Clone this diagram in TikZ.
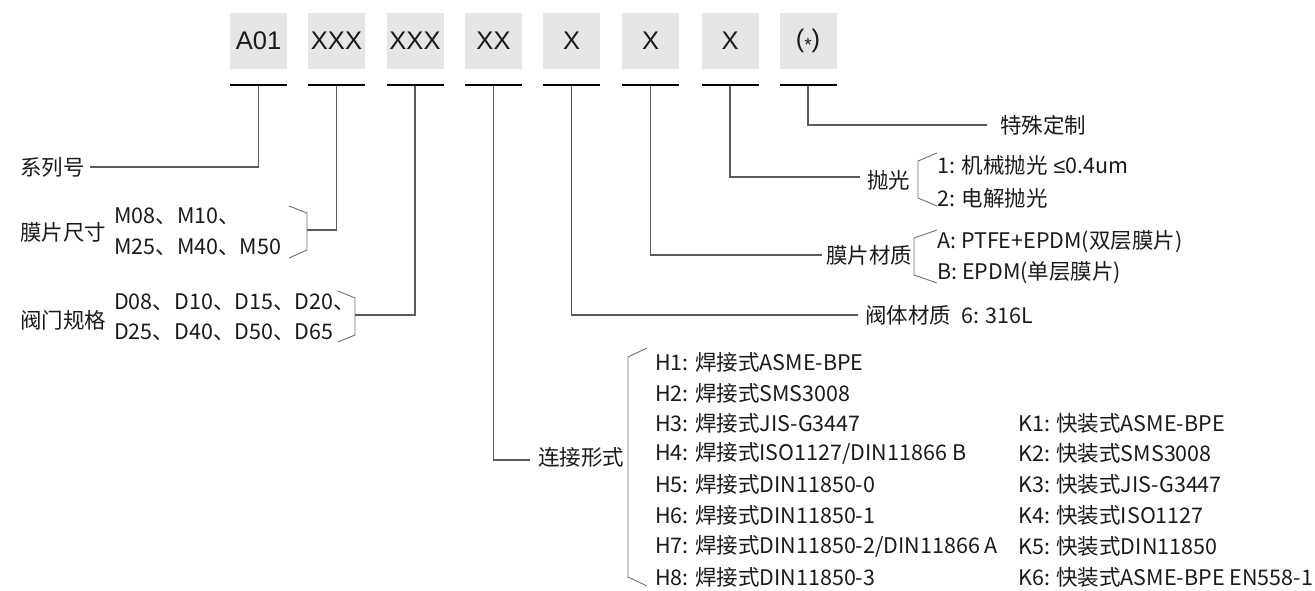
\documentclass[tikz,border=0pt]{standalone}
\usepackage{fontspec}
\setmainfont{Noto Sans CJK SC}
\newfontfamily\boxfont{Liberation Sans}
\definecolor{boxgray}{HTML}{E4E5E6}
\definecolor{linegray}{HTML}{5A5A5A}
\definecolor{brgray}{HTML}{6E6E6E}
\definecolor{txt}{HTML}{1A1A1A}
\newcommand{\myle}{{\boxfont ≤}}
\begin{document}
\begin{tikzpicture}[x=1pt,y=-1pt,
  codebox/.style={fill=boxgray, minimum width=57pt, minimum height=56pt, inner sep=0pt, text=txt, font=\boxfont\fontsize{25.5}{26}\selectfont},
  uline/.style={fill=black, minimum width=57pt, minimum height=2.4pt, inner sep=0pt},
  lbl/.style={font=\fontsize{21.5}{24}\selectfont, inner sep=0pt, anchor=west, text=txt},
  conn/.style={draw=linegray, line width=1.1pt},
  brk/.style={draw=brgray, line width=0.9pt}]
\useasboundingbox (0,0) rectangle (1315,590);
% code boxes
\foreach \i/\x/\t in {1/258.5/A01, 2/336.5/XXX, 3/415/XXX, 4/493.5/XX, 5/571.5/X, 6/650.5/X, 7/730/X, 8/808/{(\raisebox{-3.5pt}{\fontsize{19}{19}\selectfont *})}} {
  \node[codebox] (b\i) at (\x,41) {\t};
  \node[uline] (u\i) at (\x,85) {};
}
% left labels
\node[lbl] (s1) at (20,167) {系列号};
\node[lbl] (s2) at (20,232) {膜片尺寸};
\node[lbl] (m1) at (114,216) {M08、M10、};
\node[lbl] (m2) at (114,247) {M25、M40、M50};
\node[lbl] (s3) at (20,320) {阀门规格};
\node[lbl] (d1) at (114,302) {D08、D10、D15、D20、};
\node[lbl] (d2) at (114,332) {D25、D40、D50、D65};
% right labels
\node[lbl] (r8) at (1000,125) {特殊定制};
\node[lbl] (r7) at (867,180) {抛光};
\node[lbl] (p1) at (937,165) {1: 机械抛光\hspace{6pt}\myle0.4um};
\node[lbl] (p2) at (937,198) {2: 电解抛光};
\node[lbl] (r6) at (826,255) {膜片材质};
\node[lbl] (a1) at (937,242) {A: PTFE+EPDM(双层膜片)};
\node[lbl] (a2) at (937,273) {B: EPDM(单层膜片)};
\node[lbl] (r5) at (865,315) {阀体材质\hspace{10pt}6: 316L};
\node[lbl] (r4) at (538,457) {连接形式};
\foreach \n/\y/\t in {1/362/{H1: 焊接式ASME-BPE}, 2/393/{H2: 焊接式SMS3008}, 3/423/{H3: 焊接式JIS-G3447}, 4/453/{H4: 焊接式ISO1127/DIN11866 B}, 5/484/{H5: 焊接式DIN11850-0}, 6/515/{H6: 焊接式DIN11850-1}, 7/546/{H7: 焊接式DIN11850-2/DIN11866 A}, 8/577/{H8: 焊接式DIN11850-3}}
  \node[lbl] (h\n) at (655,\y) {\t};
\foreach \n/\y/\t in {1/423/{K1: 快装式ASME-BPE}, 2/453/{K2: 快装式SMS3008}, 3/484/{K3: 快装式JIS-G3447}, 4/515/{K4: 快装式ISO1127}, 5/546/{K5: 快装式DIN11850}, 6/577/{K6: 快装式ASME-BPE EN558-1}}
  \node[lbl] (k\n) at (1018,\y) {\t};
% bracket join points
\coordinate (j2) at (307,230);
\coordinate (j3) at (355,315);
\coordinate (j7) at (860,177);
\coordinate (j6) at (822,255);
\coordinate (j5) at (858,315);
\coordinate (j4) at (530,460);
\coordinate (j8) at (987,125);
\coordinate (j1) at (90,167);
% brackets
\draw[brk] (289,206) -- (307,213) -- (307,250) -- (289,258);
\draw[brk] (338,291) -- (355,298) -- (355,335) -- (338,342);
\draw[brk] (937,153) -- (918,161) -- (918,198) -- (937,206);
\draw[brk] (937,230) -- (914,238) -- (914,275) -- (937,283);
\draw[brk] (647,348) -- (628,357) -- (628,577) -- (647,586);
% connectors
\draw[conn] (u1.south) |- (j1);
\draw[conn] (u2.south) |- (j2);
\draw[conn] (u3.south) |- (j3);
\draw[conn] (u4.south) |- (j4);
\draw[conn] (u5.south) |- (j5);
\draw[conn] (u6.south) |- (j6);
\draw[conn] (u7.south) |- (j7);
\draw[conn] (u8.south) |- (j8);
\end{tikzpicture}
\end{document}
